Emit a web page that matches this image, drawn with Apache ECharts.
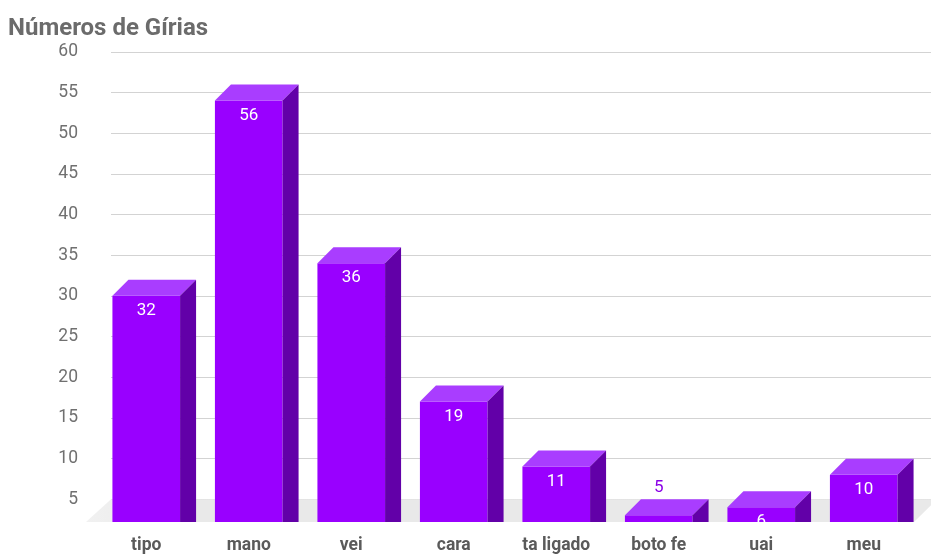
<!DOCTYPE html>
<html>
<head>
<meta charset="utf-8">
<script src="https://cdn.jsdelivr.net/npm/echarts@6/dist/echarts.min.js"></script>
<style>
html,body{margin:0;padding:0;background:#fff;}
#chart{width:931px;height:555px;}
</style>
</head>
<body>
<div id="chart"></div>
<script>
const titleText = 'Números de Gírias';
const categories = ['tipo', 'mano', 'vei', 'cara', 'ta ligado', 'boto fe', 'uai', 'meu'];
const values = [32, 56, 36, 19, 11, 5, 6, 10];
const yTicks = [0, 5, 10, 15, 20, 25, 30, 35, 40, 45, 50, 55, 60];

const FRONT = '#9900ff', TOP = '#a93dff', SIDE = '#6200a8', OUT_LABEL = '#8a00e6';
const DX = 16, DY = 16, FLOOR_DROP = 18;

const chart = echarts.init(document.getElementById('chart'), null, {renderer: 'canvas'});

function renderFloor(params, api) {
  const base = api.coord([0, 0]);
  const cs = params.coordSys;
  const left = cs.x, right = cs.x + cs.width;
  const front = base[1] - FLOOR_DROP;
  const back = base[1] - api.size([0, 5])[1];
  return {
    type: 'polygon', shape: {points: [[left, back], [right + 6, back], [right - 17, front], [left - 25, front]]},
    style: {fill: {type: 'linear', x: 0, y: 0, x2: 1, y2: 0, colorStops: [{offset: 0, color: '#f1f1f1'}, {offset: 0.1, color: '#e9e9e9'}, {offset: 1, color: '#e9e9e9'}]}}
  };
}

function renderBar(params, api) {
  const i = api.value(0), v = api.value(1);
  const back = api.coord([i, v]);
  const base = api.coord([i, 0]);
  const bw = api.size([1, 0])[0] * 0.66;
  const h = bw / 2;
  const bx = back[0], by = back[1];
  const fx = bx - DX, fy = by + DY;
  const bottom = base[1] - FLOOR_DROP;
  const frontH = Math.max(0, bottom - fy);
  const inside = frontH >= 10;
  return {
    type: 'group',
    children: [
      {type: 'rect', shape: {x: fx - h, y: fy, width: bw, height: frontH}, style: {fill: FRONT}},
      {type: 'polygon', shape: {points: [[fx - h, fy], [fx + h, fy], [bx + h, by], [bx - h, by]]}, style: {fill: TOP}},
      {type: 'polygon', shape: {points: [[fx + h, fy], [bx + h, by], [bx + h, bottom], [fx + h, bottom]]}, style: {fill: SIDE}},
      {type: 'text', style: {text: String(v), x: fx, y: inside ? fy + 15 : by - 12, align: 'center', verticalAlign: 'middle',
        fill: inside ? '#ffffff' : OUT_LABEL, font: '17px Roboto'}}
    ]
  };
}

function renderCover(params, api) {
  const base = api.coord([0, 0]);
  const bottom = base[1] - FLOOR_DROP;
  return {type: 'rect', shape: {x: 0, y: bottom, width: 2000, height: 100}, style: {fill: '#ffffff'}};
}

const gridColors = yTicks.map((t, k) => k === 0 ? 'rgba(0,0,0,0)' : '#d3d3d3');

chart.setOption({
  animation: false,
  backgroundColor: '#ffffff',
  title: {text: titleText, left: 3, top: 12, textStyle: {fontFamily: 'Roboto', fontSize: 24, fontWeight: 'bold', color: '#6b6b6b'}},
  grid: {left: 111, right: -4, top: 52, bottom: 10, containLabel: false},
  xAxis: {
    type: 'category', data: categories, z: 10,
    axisLine: {show: false}, axisTick: {show: false},
    axisLabel: {margin: -3, fontFamily: 'Roboto', fontSize: 17.5, fontWeight: 'bold', color: '#5a5a5a', padding: [0, 32, 0, 0]}
  },
  yAxis: {
    type: 'value', min: yTicks[0], max: yTicks[yTicks.length - 1], interval: yTicks[1] - yTicks[0],
    axisLine: {show: false}, axisTick: {show: false},
    axisLabel: {margin: 33, fontFamily: 'Roboto', fontSize: 17.5, color: '#707070', formatter: v => v === 0 ? '' : String(v)},
    splitLine: {show: true, lineStyle: {color: gridColors, width: 1}}
  },
  series: [
    {type: 'custom', z: 1, renderItem: renderFloor, data: [[0, 0]], silent: true, clip: false},
    {type: 'custom', z: 2, renderItem: renderBar, data: values.map((v, i) => [i, v]), clip: false},
    {type: 'custom', z: 3, renderItem: renderCover, data: [[0, 0]], silent: true, clip: false}
  ]
});
</script>
</body>
</html>
